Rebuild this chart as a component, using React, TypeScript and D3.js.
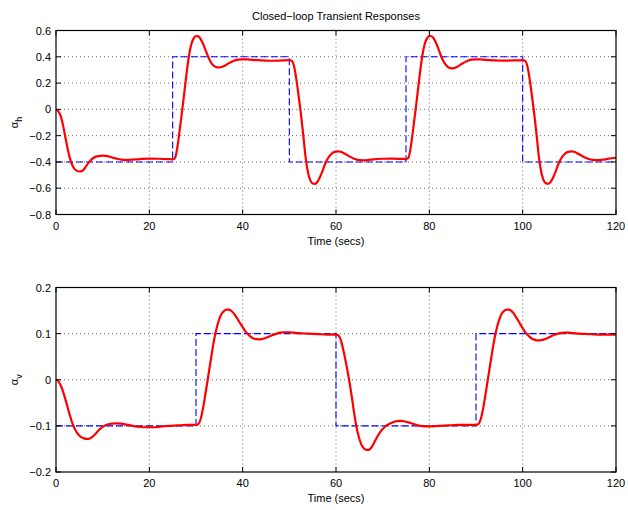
import React from "react";
import * as d3 from "d3";

// ---------- data ----------
const xTicks = [0, 20, 40, 60, 80, 100, 120];
const hTicks = [0.6, 0.4, 0.2, 0, -0.2, -0.4, -0.6, -0.8];
const vTicks = [0.2, 0.1, 0, -0.1, -0.2];

// reference (command) signals, step-after
const hRefTimes = [0, 25, 50, 75, 100, 120];
const hRefValues = [-0.4, 0.4, -0.4, 0.4, -0.4, -0.4];
const vRefTimes = [0, 30, 60, 90, 120];
const vRefValues = [-0.1, 0.1, -0.1, 0.1, 0.1];

// alpha_h response
const hTimes = [
  0, 0.5, 1, 1.5, 2, 2.5, 3, 3.5, 4, 4.5, 5, 5.5, 6, 6.5, 7, 7.5, 8, 9, 10, 11, 12, 13, 14, 15, 16, 18, 20, 22, 24, 25,
  25.5, 26, 26.5, 27, 27.5, 28, 28.5, 29, 29.5, 30, 30.5, 31, 31.5, 32, 32.5, 33, 33.5, 34, 34.5, 35, 35.5, 36, 37, 38, 39, 40, 41, 42, 44, 46, 48, 49, 50,
  50.5, 51, 51.5, 52, 52.5, 53, 53.5, 54, 54.5, 55, 55.5, 56, 56.5, 57, 57.5, 58, 58.5, 59, 59.5, 60, 60.5, 61, 62, 63, 64, 65, 66, 67, 68, 70, 72, 74, 75,
  75.5, 76, 76.5, 77, 77.5, 78, 78.5, 79, 79.5, 80, 80.5, 81, 81.5, 82, 82.5, 83, 83.5, 84, 84.5, 85, 85.5, 86, 87, 88, 89, 90, 91, 92, 94, 96, 98, 99, 100,
  100.5, 101, 101.5, 102, 102.5, 103, 103.5, 104, 104.5, 105, 105.5, 106, 106.5, 107, 107.5, 108, 108.5, 109, 109.5, 110, 110.5, 111, 112, 113, 114, 115, 116, 117, 118, 119, 120,
];
const hValues = [
  0, -0.015, -0.05, -0.12, -0.21, -0.3, -0.375, -0.425, -0.455, -0.468, -0.473, -0.47, -0.455, -0.43, -0.405, -0.385, -0.37, -0.356, -0.352, -0.356, -0.366, -0.376, -0.383, -0.385, -0.383, -0.378, -0.375, -0.376, -0.379, -0.38,
  -0.37, -0.29, -0.16, -0.02, 0.13, 0.28, 0.41, 0.495, 0.54, 0.558, 0.555, 0.535, 0.5, 0.455, 0.41, 0.37, 0.342, 0.327, 0.32, 0.319, 0.322, 0.33, 0.35, 0.368, 0.378, 0.381, 0.38, 0.377, 0.372, 0.37, 0.371, 0.373, 0.374,
  0.37, 0.33, 0.23, 0.1, -0.04, -0.2, -0.37, -0.48, -0.54, -0.564, -0.567, -0.553, -0.52, -0.48, -0.43, -0.39, -0.36, -0.34, -0.327, -0.321, -0.32, -0.323, -0.34, -0.36, -0.377, -0.387, -0.388, -0.384, -0.38, -0.376, -0.375, -0.377, -0.378,
  -0.37, -0.29, -0.16, -0.02, 0.13, 0.28, 0.41, 0.495, 0.54, 0.558, 0.556, 0.536, 0.5, 0.455, 0.408, 0.368, 0.34, 0.322, 0.314, 0.312, 0.316, 0.325, 0.347, 0.366, 0.378, 0.381, 0.38, 0.377, 0.373, 0.371, 0.372, 0.373, 0.374,
  0.37, 0.33, 0.23, 0.1, -0.04, -0.2, -0.37, -0.48, -0.54, -0.563, -0.566, -0.552, -0.52, -0.48, -0.43, -0.39, -0.36, -0.34, -0.327, -0.321, -0.32, -0.323, -0.34, -0.36, -0.376, -0.384, -0.386, -0.383, -0.378, -0.372, -0.368,
];

// alpha_v response
const vTimes = [
  0, 0.5, 1, 1.5, 2, 2.5, 3, 3.5, 4, 4.5, 5, 5.5, 6, 6.5, 7, 7.5, 8, 8.5, 9, 9.5, 10, 10.5, 11, 12, 13, 14, 15, 16, 17, 18, 19, 20, 21, 22, 24, 26, 28, 30,
  30.5, 31, 31.5, 32, 32.5, 33, 33.5, 34, 34.5, 35, 35.5, 36, 36.5, 37, 37.5, 38, 38.5, 39, 39.5, 40, 40.5, 41, 41.5, 42, 42.5, 43, 43.5, 44, 45, 46, 47, 48, 49, 50, 51, 52, 54, 56, 58, 60,
  60.5, 61, 61.5, 62, 62.5, 63, 63.5, 64, 64.5, 65, 65.5, 66, 66.5, 67, 67.5, 68, 68.5, 69, 69.5, 70, 70.5, 71, 72, 73, 74, 75, 76, 77, 78, 79, 80, 82, 84, 86, 88, 90,
  90.5, 91, 91.5, 92, 92.5, 93, 93.5, 94, 94.5, 95, 95.5, 96, 96.5, 97, 97.5, 98, 98.5, 99, 99.5, 100, 100.5, 101, 101.5, 102, 102.5, 103, 103.5, 104, 105, 106, 107, 108, 109, 110, 111, 112, 114, 116, 118, 120,
];
const vValues = [
  0, -0.003, -0.012, -0.025, -0.042, -0.06, -0.078, -0.094, -0.106, -0.115, -0.121, -0.125, -0.127, -0.128, -0.128, -0.126, -0.122, -0.117, -0.111, -0.106, -0.102, -0.099, -0.097, -0.095, -0.0945, -0.095, -0.097, -0.099, -0.101, -0.102, -0.103, -0.103, -0.103, -0.102, -0.1, -0.099, -0.098, -0.098,
  -0.096, -0.085, -0.062, -0.032, 0.0, 0.032, 0.064, 0.093, 0.115, 0.132, 0.143, 0.149, 0.152, 0.152, 0.15, 0.145, 0.138, 0.13, 0.122, 0.114, 0.106, 0.1, 0.095, 0.091, 0.089, 0.088, 0.0875, 0.088, 0.091, 0.095, 0.099, 0.102, 0.103, 0.103, 0.102, 0.101, 0.1, 0.099, 0.098, 0.098,
  0.096, 0.087, 0.068, 0.044, 0.017, -0.012, -0.045, -0.08, -0.108, -0.128, -0.142, -0.149, -0.152, -0.152, -0.148, -0.14, -0.13, -0.121, -0.113, -0.107, -0.102, -0.098, -0.093, -0.0895, -0.089, -0.091, -0.094, -0.097, -0.1, -0.101, -0.101, -0.1, -0.099, -0.098, -0.098, -0.098,
  -0.096, -0.086, -0.064, -0.034, -0.002, 0.03, 0.062, 0.091, 0.114, 0.131, 0.143, 0.149, 0.152, 0.152, 0.15, 0.145, 0.137, 0.129, 0.12, 0.112, 0.104, 0.098, 0.093, 0.089, 0.087, 0.0855, 0.0855, 0.086, 0.089, 0.094, 0.098, 0.101, 0.102, 0.102, 0.101, 0.1, 0.099, 0.098, 0.098, 0.098,
];

const TITLE = "Closed\u2212loop Transient Responses";
const X_LABEL = "Time (secs)";

// ---------- layout ----------
const W = 628;
const H = 510;
const FONT = "'Liberation Sans', Arial, Helvetica, sans-serif";

type PanelProps = {
  top: number;
  bottom: number;
  yDomain: [number, number];
  yTicks: number[];
  times: number[];
  values: number[];
  refTimes: number[];
  refValues: number[];
  sub: string;
  title?: string;
};

const fmt = (v: number) => {
  const s = String(Math.round(v * 1000) / 1000);
  return s.replace("-", "\u2212");
};

function Panel({ top, bottom, yDomain, yTicks, times, values, refTimes, refValues, sub, title }: PanelProps) {
  const left = 56;
  const right = 616;
  const x = d3.scaleLinear().domain([0, 120]).range([left, right]);
  const y = d3.scaleLinear().domain(yDomain).range([bottom, top]);
  const resp = times.map((t, i) => [t, values[i]] as [number, number]);
  const ref = refTimes.map((t, i) => [t, refValues[i]] as [number, number]);
  const line = d3
    .line<[number, number]>()
    .x((d) => x(d[0]))
    .y((d) => y(d[1]))
    .curve(d3.curveMonotoneX);
  const stepLine = d3
    .line<[number, number]>()
    .x((d) => x(d[0]))
    .y((d) => y(d[1]))
    .curve(d3.curveStepAfter);
  const tl = 5;
  const midX = (left + right) / 2;
  return (
    <g>
      {title && (
        <text x={midX} y={top - 11} textAnchor="middle" fontSize={11} fontFamily={FONT} fill="#000">
          {title}
        </text>
      )}
      {/* grid */}
      {xTicks.slice(1, -1).map((t) => (
        <line key={"gx" + t} x1={x(t)} x2={x(t)} y1={top} y2={bottom} stroke="#444" strokeWidth={0.8} strokeDasharray="1,3" />
      ))}
      {yTicks.slice(1, -1).map((t) => (
        <line key={"gy" + t} x1={left} x2={right} y1={y(t)} y2={y(t)} stroke="#444" strokeWidth={0.8} strokeDasharray="1,3" />
      ))}
      {/* data */}
      <path d={stepLine(ref) || ""} fill="none" stroke="#0000ff" strokeWidth={1.1} strokeDasharray="7,3" />
      <path d={line(resp) || ""} fill="none" stroke="#ff0000" strokeWidth={2.2} strokeLinejoin="round" />
      {/* box */}
      <rect x={left} y={top} width={right - left} height={bottom - top} fill="none" stroke="#000" strokeWidth={1.2} />
      {/* ticks */}
      {xTicks.map((t) => (
        <g key={"tx" + t}>
          <line x1={x(t)} x2={x(t)} y1={bottom} y2={bottom - tl} stroke="#000" />
          <line x1={x(t)} x2={x(t)} y1={top} y2={top + tl} stroke="#000" />
          <text x={x(t)} y={bottom + 15} textAnchor="middle" fontSize={11} fontFamily={FONT} fill="#000">
            {fmt(t)}
          </text>
        </g>
      ))}
      {yTicks.map((t) => (
        <g key={"ty" + t}>
          <line x1={left} x2={left + tl} y1={y(t)} y2={y(t)} stroke="#000" />
          <line x1={right} x2={right - tl} y1={y(t)} y2={y(t)} stroke="#000" />
          <text x={left - 5} y={y(t) + 4} textAnchor="end" fontSize={11} fontFamily={FONT} fill="#000">
            {fmt(t)}
          </text>
        </g>
      ))}
      <text x={midX} y={bottom + 30} textAnchor="middle" fontSize={11} fontFamily={FONT} fill="#000">
        {X_LABEL}
      </text>
      <text transform={`translate(18, ${(top + bottom) / 2}) rotate(-90)`} textAnchor="middle" fontSize={11} fontFamily={FONT} fill="#000">
        {"\u03b1"}
        <tspan fontSize={9} dy={4}>
          {sub}
        </tspan>
      </text>
    </g>
  );
}

export default function App() {
  return (
    <svg width={W} height={H} style={{ position: "absolute", left: 0, top: 0, background: "#fff" }}>
      <rect width={W} height={H} fill="#fff" />
      <Panel
        top={30.5}
        bottom={214.5}
        yDomain={[-0.8, 0.6]}
        yTicks={hTicks}
        times={hTimes}
        values={hValues}
        refTimes={hRefTimes}
        refValues={hRefValues}
        sub="h"
        title={TITLE}
      />
      <Panel
        top={287.5}
        bottom={472}
        yDomain={[-0.2, 0.2]}
        yTicks={vTicks}
        times={vTimes}
        values={vValues}
        refTimes={vRefTimes}
        refValues={vRefValues}
        sub="v"
      />
    </svg>
  );
}
